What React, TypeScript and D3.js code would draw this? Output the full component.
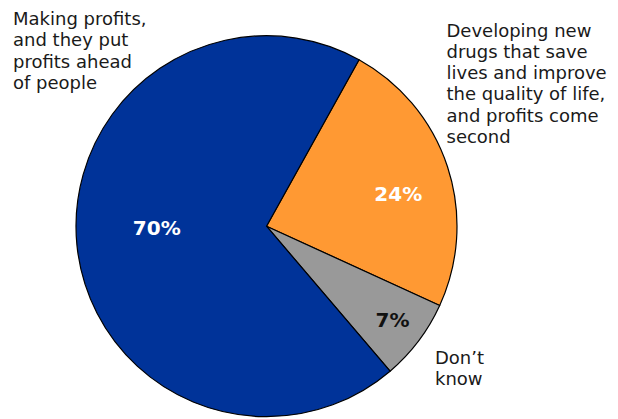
import React from "react";
import * as d3 from "d3";

const categories = [
  "Developing new drugs that save lives and improve the quality of life, and profits come second",
  "Don’t know",
  "Making profits, and they put profits ahead of people",
];
const values = [24, 7, 70];
const valueLabels = ["24%", "7%", "70%"];
const colors = ["#FF9933", "#999999", "#003399"];
const labelColors = ["#ffffff", "#111111", "#ffffff"];

const categoryLines = [
  ["Developing new", "drugs that save", "lives and improve", "the quality of life,", "and profits come", "second"],
  ["Don’t", "know"],
  ["Making profits,", "and they put", "profits ahead", "of people"],
];

const W = 618;
const H = 419;
const cx = 266.5;
const cy = 226.2;
const R = 190.5;
const startDeg = 29.06;

export default function App() {
  const pie = d3
    .pie<number>()
    .sort(null)
    .value((d) => d)
    .startAngle((startDeg * Math.PI) / 180)
    .endAngle((startDeg * Math.PI) / 180 + 2 * Math.PI);
  const arcs = pie(values);
  const arc = d3.arc<d3.PieArcDatum<number>>().innerRadius(0).outerRadius(R);
  const labelRadii = [0.712, 0.825, 0.576];
  const labelShiftDeg = [4.5, -0.4, 4.8];

  const catPos = [
    { x: 446.5, y: 36.5 },
    { x: 435, y: 364 },
    { x: 13, y: 25 },
  ];

  return (
    <svg width={W} height={H} style={{ position: "absolute", left: 0, top: 0 }}>
      <rect width={W} height={H} fill="#ffffff" />
      <g transform={`translate(${cx},${cy})`}>
        {arcs.map((a, i) => (
          <path key={i} d={arc(a) || ""} fill={colors[i]} stroke="#000" strokeWidth={1.2} strokeLinejoin="round" />
        ))}
        {arcs.map((a, i) => {
          const shift = (labelShiftDeg[i] * Math.PI) / 180;
          const shifted = { ...a, startAngle: a.startAngle + shift, endAngle: a.endAngle + shift };
          const l = d3.arc<d3.PieArcDatum<number>>().innerRadius(R * labelRadii[i]).outerRadius(R * labelRadii[i]);
          const [x, y] = l.centroid(shifted);
          return (
            <text
              key={i}
              x={x}
              y={y}
              textAnchor="middle"
              dominantBaseline="central"
              fill={labelColors[i]}
              fontFamily="DejaVu Sans, Verdana, sans-serif"
              fontWeight="bold"
              fontSize={20}
            >
              {valueLabels[i]}
            </text>
          );
        })}
      </g>
      {categoryLines.map((lines, i) => (
        <text
          key={i}
          fontFamily="DejaVu Sans, Verdana, sans-serif"
          fontSize={18}
          fill="#1a1a1a"
          aria-label={categories[i]}
        >
          {lines.map((ln, j) => (
            <tspan key={j} x={catPos[i].x} y={catPos[i].y + j * 21.3}>
              {ln}
            </tspan>
          ))}
        </text>
      ))}
    </svg>
  );
}
